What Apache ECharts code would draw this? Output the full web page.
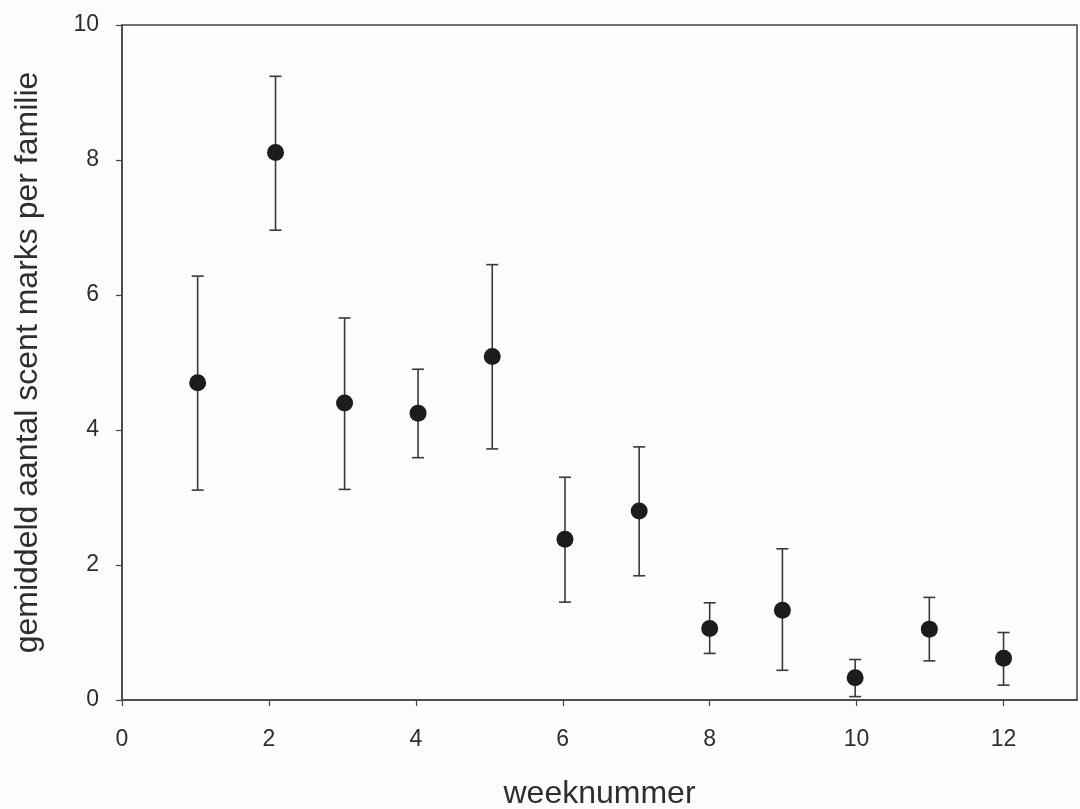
<!DOCTYPE html>
<html>
<head>
<meta charset="utf-8">
<script src="https://cdn.jsdelivr.net/npm/echarts@6/dist/echarts.min.js"></script>
<style>
html,body{margin:0;padding:0;background:#fcfcfc;}
#c{width:1080px;height:809px;}
</style>
</head>
<body>
<div id="c"></div>
<script>
// Data
const weeks = [1.03, 2.09, 3.03, 4.03, 5.04, 6.03, 7.04, 8.0, 8.99, 9.98, 10.99, 12.0];
const means = [4.70, 8.11, 4.40, 4.25, 5.09, 2.38, 2.80, 1.06, 1.33, 0.33, 1.05, 0.62];
const upper = [6.28, 9.24, 5.66, 4.90, 6.45, 3.30, 3.75, 1.44, 2.24, 0.60, 1.52, 1.00];
const lower = [3.11, 6.96, 3.12, 3.59, 3.72, 1.45, 1.84, 0.69, 0.44, 0.05, 0.58, 0.22];
const xTitle = 'weeknummer';
const yTitle = 'gemiddeld aantal scent marks per familie';

const pointData = weeks.map((w, i) => [w, means[i]]);
const errData = weeks.map((w, i) => [w, lower[i], upper[i]]);

const chart = echarts.init(document.getElementById('c'));
const ink = '#2e2e2e';
const font = '"Liberation Sans", Arial, sans-serif';

chart.setOption({
  backgroundColor: '#fcfcfc',
  animation: false,
  grid: {
    left: 122, right: 3, top: 25, bottom: 109,
    outerBoundsMode: 'none', containLabel: false,
    show: true, borderColor: '#444', borderWidth: 1.5, backgroundColor: 'transparent'
  },
  xAxis: {
    type: 'value', min: 0, max: 13, interval: 2,
    name: xTitle, nameLocation: 'middle', nameGap: 78,
    nameTextStyle: { fontFamily: font, fontSize: 32, color: ink, verticalAlign: 'top' },
    axisLine: { show: true, onZero: false, lineStyle: { color: '#444', width: 1.5 } },
    axisTick: { show: true, inside: false, length: 6, lineStyle: { color: '#444', width: 1.2 } },
    axisLabel: { margin: 28, fontFamily: font, fontSize: 23, color: ink, showMaxLabel: false },
    splitLine: { show: false }
  },
  yAxis: {
    type: 'value', min: 0, max: 10, interval: 2,
    name: yTitle, nameLocation: 'middle', nameGap: 78, nameRotate: 90,
    nameTextStyle: { fontFamily: font, fontSize: 32, color: ink },
    axisLine: { show: true, onZero: false, lineStyle: { color: '#444', width: 1.5 } },
    axisTick: { show: true, inside: false, length: 6, lineStyle: { color: '#444', width: 1.2 } },
    axisLabel: { margin: 23, fontFamily: font, fontSize: 23, color: ink },
    splitLine: { show: false }
  },
  series: [
    {
      type: 'custom',
      data: errData,
      z: 2,
      renderItem: function (params, api) {
        const x = api.value(0);
        const lo = api.coord([x, api.value(1)]);
        const hi = api.coord([x, api.value(2)]);
        const hw = 6;
        const st = { stroke: '#3a3a3a', lineWidth: 1.6, fill: null };
        return {
          type: 'group',
          children: [
            { type: 'line', shape: { x1: lo[0], y1: lo[1], x2: hi[0], y2: hi[1] }, style: st },
            { type: 'line', shape: { x1: hi[0] - hw, y1: hi[1], x2: hi[0] + hw, y2: hi[1] }, style: st },
            { type: 'line', shape: { x1: lo[0] - hw, y1: lo[1], x2: lo[0] + hw, y2: lo[1] }, style: st }
          ]
        };
      }
    },
    {
      type: 'scatter',
      data: pointData,
      symbol: 'circle',
      symbolSize: 17,
      z: 3,
      itemStyle: { color: '#1c1c1c', opacity: 1 }
    }
  ]
});
</script>
</body>
</html>
